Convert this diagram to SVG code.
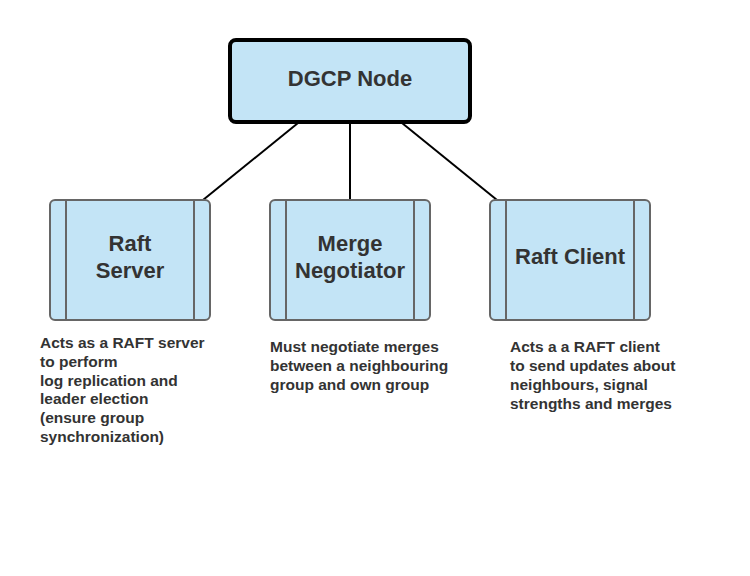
<svg xmlns="http://www.w3.org/2000/svg" width="750" height="576" viewBox="0 0 750 576">
<style>
.top{fill:#c3e4f6;stroke:#000;stroke-width:4}
.box{fill:#c3e4f6;stroke:#666;stroke-width:2}
.bar{stroke:#666;stroke-width:2}
.t{font-family:"Liberation Sans",Arial,sans-serif;font-weight:bold;fill:#333;text-anchor:middle;font-size:22px}
.d{font-family:"Liberation Sans",Arial,sans-serif;font-weight:bold;fill:#333;font-size:15.5px}
.c{stroke:#000;stroke-width:2;fill:none}
</style>
<rect width="750" height="576" fill="#fff"/>
<g id="connectors">
<line class="c" x1="298" y1="123" x2="203" y2="200"/>
<line class="c" x1="350" y1="123" x2="350" y2="200"/>
<line class="c" x1="402" y1="123" x2="497" y2="200"/>
</g>
<g id="dgcp-node">
<rect class="top" x="230" y="40" width="240" height="82" rx="6"/>
<text class="t" x="350" y="86">DGCP Node</text>
</g>
<g id="raft-server">
<rect class="box" x="50" y="200" width="160" height="120" rx="5"/>
<line class="bar" x1="66" y1="200" x2="66" y2="320"/>
<line class="bar" x1="194" y1="200" x2="194" y2="320"/>
<text class="t" x="130" y="251">Raft</text>
<text class="t" x="130" y="278">Server</text>
</g>
<g id="merge-negotiator">
<rect class="box" x="270" y="200" width="160" height="120" rx="5"/>
<line class="bar" x1="286" y1="200" x2="286" y2="320"/>
<line class="bar" x1="414" y1="200" x2="414" y2="320"/>
<text class="t" x="350" y="251">Merge</text>
<text class="t" x="350" y="278">Negotiator</text>
</g>
<g id="raft-client">
<rect class="box" x="490" y="200" width="160" height="120" rx="5"/>
<line class="bar" x1="506" y1="200" x2="506" y2="320"/>
<line class="bar" x1="634" y1="200" x2="634" y2="320"/>
<text class="t" x="570" y="264">Raft Client</text>
</g>
<g id="descriptions">
<text class="d" x="40" y="348">Acts as a RAFT server</text>
<text class="d" x="40" y="367">to perform</text>
<text class="d" x="40" y="386">log replication and</text>
<text class="d" x="40" y="404">leader election</text>
<text class="d" x="40" y="423">(ensure group</text>
<text class="d" x="40" y="442">synchronization)</text>
<text class="d" x="270" y="352">Must negotiate merges</text>
<text class="d" x="270" y="371">between a neighbouring</text>
<text class="d" x="270" y="390">group and own group</text>
<text class="d" x="510" y="352">Acts a a RAFT client</text>
<text class="d" x="510" y="371">to send updates about</text>
<text class="d" x="510" y="390">neighbours, signal</text>
<text class="d" x="510" y="409">strengths and merges</text>
</g>
</svg>
